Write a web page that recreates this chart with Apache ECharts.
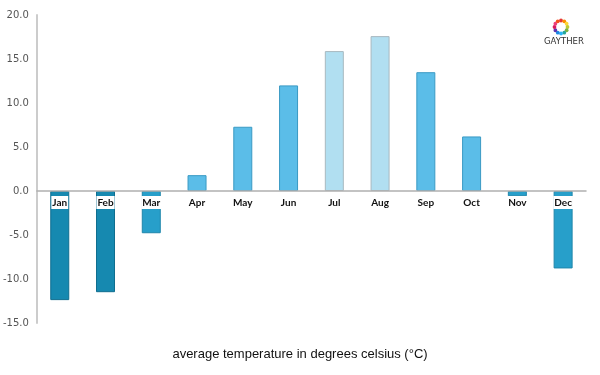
<!DOCTYPE html>
<html><head><meta charset="utf-8">
<script src="https://cdn.jsdelivr.net/npm/echarts@6/dist/echarts.min.js"></script>
<style>html,body{margin:0;padding:0;background:#fff}#c{width:600px;height:375px}</style>
</head><body><div id="c"></div>
<script>
const months = ['Jan','Feb','Mar','Apr','May','Jun','Jul','Aug','Sep','Oct','Nov','Dec'];
const temps = [-12.4, -11.5, -4.8, 1.8, 7.3, 12.0, 15.9, 17.6, 13.5, 6.2, -0.6, -8.8];
const fills = ['#1689b0','#1689b0','#279fca','#5bbde8','#5bbde8','#5bbde8','#b1dff1','#b1dff1','#5bbde8','#5bbde8','#279fca','#279fca'];
const borders = ['#0f6e8f','#0f6e8f','#1f86ab','#3a9ac4','#3a9ac4','#3a9ac4','#a9b9c0','#a9b9c0','#3a9ac4','#3a9ac4','#1f86ab','#1f86ab'];
const yTicks = {min: -15, max: 20, step: 5};
const title = 'average temperature in degrees celsius (°C)';

const chart = echarts.init(document.getElementById('c'));
const ringColors = ['#e53935','#fb8c00','#fdd835','#c0ca33','#7cb342','#26a69a','#29b6f6','#1e88e5','#5e35b1','#d81b60','#ec407a','#f4511e'];
const ring = ringColors.map((c, i) => {
  const a = i / ringColors.length * Math.PI * 2 - Math.PI / 2;
  return {type: 'circle', shape: {cx: 561 + Math.cos(a) * 6.5, cy: 27 + Math.sin(a) * 6.5, r: 1.9}, style: {fill: c}};
});
chart.setOption({
  animation: false,
  grid: {left: 36, right: 14, top: 15, bottom: 52},
  xAxis: {
    type: 'category', data: months, z: 10,
    axisLine: {onZero: true, lineStyle: {color: '#b0b0b0', width: 1.5}},
    axisTick: {show: false},
    axisLabel: {show: false}
  },
  yAxis: {
    type: 'value', min: yTicks.min, max: yTicks.max, interval: yTicks.step,
    axisLine: {show: true, lineStyle: {color: '#cccccc', width: 2}},
    axisTick: {show: false},
    splitLine: {show: false},
    axisLabel: {color: '#555', fontSize: 10, fontFamily: 'DejaVu Sans', margin: 8,
      formatter: v => v.toFixed(1)}
  },
  series: [{
    type: 'bar', barWidth: 19,
    data: temps.map((v, i) => ({value: v, itemStyle: {color: fills[i], borderColor: borders[i], borderWidth: 1}})),
  }, {
    type: 'scatter', symbolSize: 0, z: 10, silent: true,
    itemStyle: {opacity: 1},
    data: months.map(m => [m, 0]),
    label: {show: true, position: 'bottom', distance: 5, opacity: 1, formatter: p => p.name || p.value[0],
      color: '#111', fontSize: 10, fontWeight: 'bold', fontFamily: 'Lato, sans-serif',
      backgroundColor: '#ffffff', padding: [2, 1, 1, 1]}
  }],
  graphic: [
    {type: 'text', left: 'center', top: 348, style: {text: title, fill: '#111', font: '13px "Liberation Sans", Arial, sans-serif'}},
    ...ring,
    {type: 'text', left: 544, top: 37, style: {text: 'GAYTHER', fill: '#333', font: '8.5px "DejaVu Sans", sans-serif'}}
  ]
});
</script></body></html>
